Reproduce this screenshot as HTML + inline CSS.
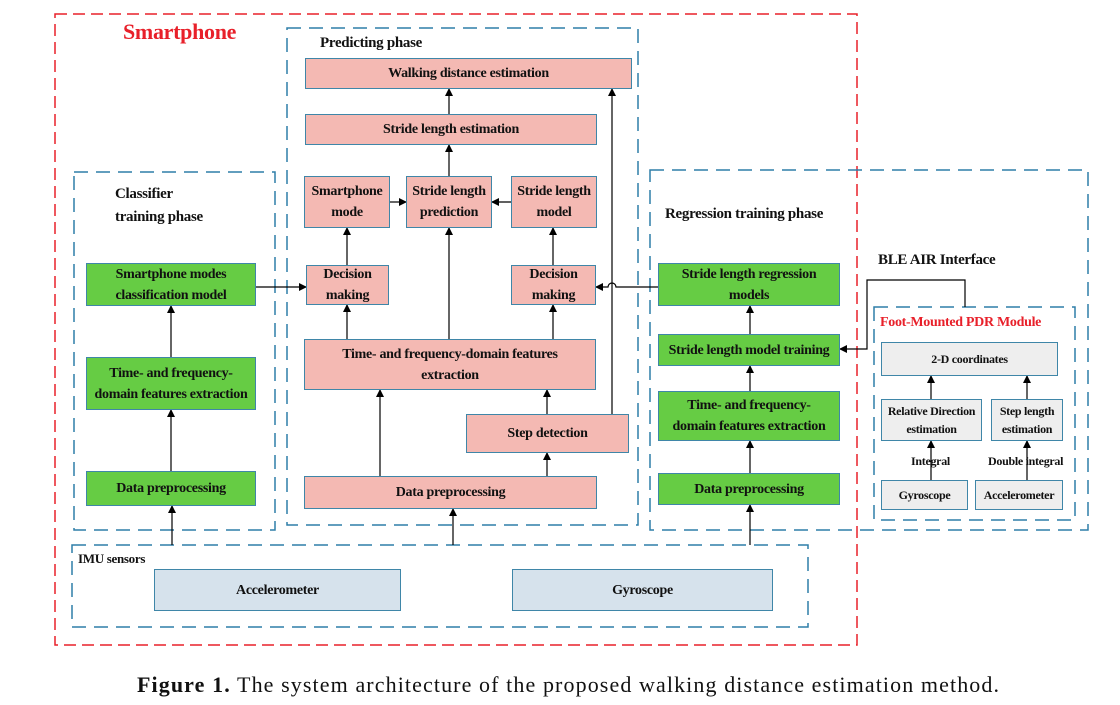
<!DOCTYPE html>
<html><head><meta charset="utf-8"><style>
body{margin:0;width:1120px;height:705px;background:#fff;position:relative;overflow:hidden;font-family:"Liberation Serif",serif;}
.b{position:absolute;box-sizing:border-box;border:1.5px solid #3f86a8;display:flex;align-items:center;justify-content:center;text-align:center;font-weight:bold;font-size:14px;line-height:21px;letter-spacing:-0.3px;color:#111;}
.p{background:#f4b9b3}
.g{background:#66cc44}
.s{background:#d6e2ec}
.f{background:#eeeeee;font-size:12px;line-height:18px}
.t{position:absolute;font-weight:bold;font-size:15px;color:#111;white-space:nowrap;letter-spacing:-0.3px}
svg{position:absolute;left:0;top:0}
</style></head><body>
<svg width="1120" height="705">
<defs><marker id="a" markerWidth="8" markerHeight="8" refX="7" refY="4" orient="auto" markerUnits="userSpaceOnUse"><path d="M0,0L8,4L0,8z" fill="#000"/></marker></defs>
<rect x="55" y="14" width="802" height="631" fill="none" stroke="#e8202a" stroke-width="1.5" stroke-dasharray="12,6"/>
<g fill="none" stroke="#2e7ea8" stroke-width="1.5" stroke-dasharray="14,8">
<rect x="287" y="28" width="351" height="497"/>
<rect x="74" y="172" width="201" height="358"/>
<rect x="650" y="170" width="438" height="360"/>
<rect x="874" y="307" width="201" height="213"/>
<rect x="72" y="545" width="736" height="82"/>
</g>
<g stroke="#000" stroke-width="1.2" fill="none" marker-end="url(#a)">
<path d="M171 471V410"/><path d="M171 357V306"/>
<path d="M172 545V506"/><path d="M453 545V509"/><path d="M750 545V505"/>
<path d="M256 287H306"/><path d="M347 265V228"/><path d="M390 202H406"/><path d="M511 202H492"/>
<path d="M449 176V145"/><path d="M449 114V89"/>
<path d="M347 339V305"/><path d="M449 339V228"/><path d="M553 339V305"/><path d="M553 265V228"/>
<path d="M380 476V390"/><path d="M547 476V453"/><path d="M547 414V390"/>
<path d="M612 414V89"/>
<path d="M658 287H616a4 4 0 0 0 -8 0H596"/>
<path d="M750 334V306"/><path d="M750 391V366"/><path d="M750 473V441"/>
<path d="M965 307V280H867V349H840"/>
<path d="M931 480V441"/><path d="M1027 480V441"/><path d="M931 399V376"/><path d="M1027 399V376"/>
</g>
</svg>
<div class="t" style="left:123px;top:19px;color:#e8202a;font-size:22px">Smartphone</div>
<div class="t" style="left:320px;top:35px">Predicting phase</div>
<div class="t" style="left:115px;top:183px;line-height:23px">Classifier<br>training phase</div>
<div class="t" style="left:665px;top:206px">Regression training phase</div>
<div class="t" style="left:878px;top:252px">BLE AIR Interface</div>
<div class="t" style="left:880px;top:315px;color:#e8202a;font-size:14px">Foot-Mounted PDR Module</div>
<div class="t" style="left:78px;top:551px;font-size:13px">IMU sensors</div>
<div class="t" style="left:911px;top:454px;font-size:12px">Integral</div>
<div class="t" style="left:988px;top:454px;font-size:12px">Double integral</div>

<div class="b p" style="left:305px;top:58px;width:327px;height:31px">Walking distance estimation</div>
<div class="b p" style="left:305px;top:114px;width:292px;height:31px">Stride length estimation</div>
<div class="b p" style="left:304px;top:176px;width:86px;height:52px">Smartphone<br>mode</div>
<div class="b p" style="left:406px;top:176px;width:86px;height:52px">Stride length<br>prediction</div>
<div class="b p" style="left:511px;top:176px;width:86px;height:52px">Stride length<br>model</div>
<div class="b p" style="left:306px;top:265px;width:83px;height:40px">Decision<br>making</div>
<div class="b p" style="left:511px;top:265px;width:85px;height:40px">Decision<br>making</div>
<div class="b p" style="left:304px;top:339px;width:292px;height:51px">Time- and frequency-domain features<br>extraction</div>
<div class="b p" style="left:466px;top:414px;width:163px;height:39px">Step detection</div>
<div class="b p" style="left:304px;top:476px;width:293px;height:33px">Data preprocessing</div>

<div class="b g" style="left:86px;top:263px;width:170px;height:43px">Smartphone modes<br>classification model</div>
<div class="b g" style="left:86px;top:357px;width:170px;height:53px">Time- and frequency-<br>domain features extraction</div>
<div class="b g" style="left:86px;top:471px;width:170px;height:35px">Data preprocessing</div>

<div class="b g" style="left:658px;top:263px;width:182px;height:43px">Stride length regression<br>models</div>
<div class="b g" style="left:658px;top:334px;width:182px;height:32px">Stride length model training</div>
<div class="b g" style="left:658px;top:391px;width:182px;height:50px">Time- and frequency-<br>domain features extraction</div>
<div class="b g" style="left:658px;top:473px;width:182px;height:32px">Data preprocessing</div>

<div class="b f" style="left:881px;top:342px;width:177px;height:34px">2-D coordinates</div>
<div class="b f" style="left:881px;top:399px;width:101px;height:42px">Relative Direction<br>estimation</div>
<div class="b f" style="left:991px;top:399px;width:72px;height:42px">Step length<br>estimation</div>
<div class="b f" style="left:881px;top:480px;width:87px;height:30px">Gyroscope</div>
<div class="b f" style="left:975px;top:480px;width:88px;height:30px">Accelerometer</div>

<div class="b s" style="left:154px;top:569px;width:247px;height:42px">Accelerometer</div>
<div class="b s" style="left:512px;top:569px;width:261px;height:42px">Gyroscope</div>

<div style="position:absolute;left:137px;top:672px;font-size:22px;letter-spacing:1.1px;color:#111;white-space:nowrap"><b>Figure 1.</b> The system architecture of the proposed walking distance estimation method.</div>
</body></html>
